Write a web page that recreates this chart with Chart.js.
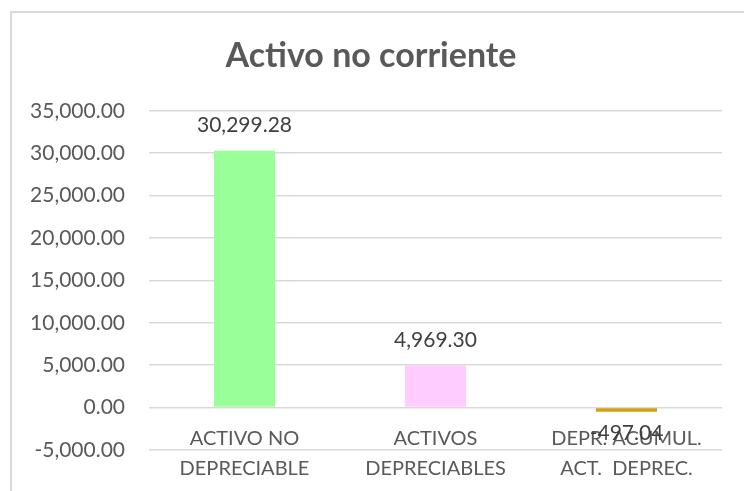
<!DOCTYPE html>
<html>
<head>
<meta charset="utf-8">
<script src="https://cdn.jsdelivr.net/npm/chart.js@4.4.1/dist/chart.umd.min.js"></script>
<style>
  html, body { margin: 0; padding: 0; background: #fff; }
  #wrap { position: relative; width: 744px; height: 491px; overflow: hidden; }
  #frame { position: absolute; left: 10px; top: 11px; width: 800px; height: 600px; border-left: 2px solid #d9d9d9; border-top: 2px solid #d9d9d9; box-sizing: border-box; }
  canvas { position: absolute; left: 0; top: 0; }
</style>
</head>
<body>
<div id="wrap">
  <div id="frame"></div>
  <canvas id="c" width="744" height="491"></canvas>
</div>
<script>
const categories = [["ACTIVO NO", "DEPRECIABLE"], ["ACTIVOS", "DEPRECIABLES"], ["DEPR. ACUMUL.", "ACT.  DEPREC."]];
const values = [30299.28, 4969.30, -497.04];
const barColors = ["#99FF99", "#FFCCFF", "#D4A00F"];
const titleText = "Activo no corriente";
const yMin = -5000, yMax = 35000, yStep = 5000;

const fmt = v => v.toLocaleString("en-US", { minimumFractionDigits: 2, maximumFractionDigits: 2 });
const FONT = "Lato, 'Open Sans', sans-serif";

const dataLabels = {
  id: "dataLabels",
  afterDatasetsDraw(chart) {
    const ctx = chart.ctx;
    const meta = chart.getDatasetMeta(0);
    ctx.save();
    ctx.font = "21px " + FONT;
    ctx.fillStyle = "#404040";
    ctx.textAlign = "center";
    ctx.textBaseline = "middle";
    meta.data.forEach((bar, i) => {
      const v = values[i];
      const y = v >= 0 ? bar.y - 25 : bar.y + 21;
      ctx.fillText(fmt(v), bar.x, y);
    });
    ctx.restore();
  }
};

new Chart(document.getElementById("c"), {
  type: "bar",
  data: {
    labels: categories,
    datasets: [{
      data: values,
      backgroundColor: barColors,
      borderWidth: 0,
      barPercentage: 0.32,
      categoryPercentage: 1.0
    }]
  },
  options: {
    responsive: false,
    animation: false,
    layout: { padding: { left: 20, right: 22, top: 0, bottom: 41 } },
    plugins: {
      legend: { display: false },
      tooltip: { enabled: false },
      title: {
        display: true,
        text: titleText,
        color: "#595959",
        font: { family: FONT, size: 34, weight: "bold" },
        padding: { top: 36, bottom: 34 }
      }
    },
    scales: {
      x: {
        position: { y: 0 },
        grid: { display: false, drawTicks: false },
        border: { display: false },
        ticks: {
          color: "#595959",
          font: { family: FONT, size: 20, lineHeight: 1.5 },
          padding: 16,
          maxRotation: 0,
          autoSkip: false
        }
      },
      y: {
        min: yMin,
        max: yMax,
        grid: { color: "#d9d9d9", lineWidth: 1.5, drawTicks: false },
        border: { display: false },
        ticks: {
          stepSize: yStep,
          color: "#595959",
          font: { family: FONT, size: 21 },
          padding: 24,
          callback: v => fmt(v)
        },
        afterFit(scale) { scale.width = 129; }
      }
    }
  },
  plugins: [dataLabels]
});
</script>
</body>
</html>
